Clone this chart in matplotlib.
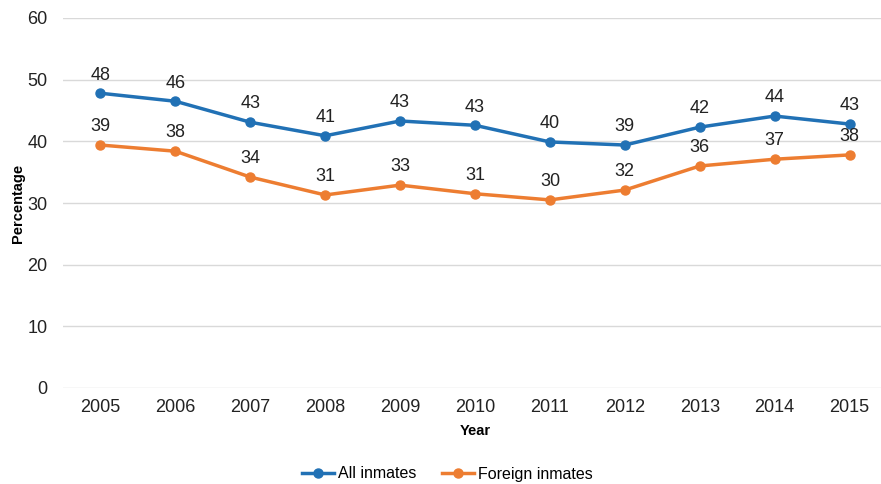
import numpy as np
import matplotlib.pyplot as plt

plt.rcParams['font.family'] = ['Liberation Sans', 'DejaVu Sans']

years = ['2005', '2006', '2007', '2008', '2009', '2010', '2011', '2012', '2013', '2014', '2015']
all_inmates = [47.8, 46.5, 43.1, 40.9, 43.3, 42.6, 39.9, 39.4, 42.3, 44.1, 42.8]
foreign_inmates = [39.4, 38.4, 34.2, 31.3, 32.9, 31.5, 30.5, 32.1, 36.0, 37.1, 37.8]
all_labels = [48, 46, 43, 41, 43, 43, 40, 39, 42, 44, 43]
foreign_labels = [39, 38, 34, 31, 33, 31, 30, 32, 36, 37, 38]

blue = '#2171B5'
orange = '#ED7D31'

fig = plt.figure(figsize=(8.81, 4.84), dpi=100)
ax = fig.add_axes([63/881, 1 - 388/484, 824/881, 370/484])

x = np.arange(len(years))
ax.plot(x, all_inmates, color=blue, lw=2.5, marker='o', ms=6.5, label='All inmates')
ax.plot(x, foreign_inmates, color=orange, lw=2.5, marker='o', ms=6.5, label='Foreign inmates')

for xi, v, lab in zip(x, all_inmates, all_labels):
    ax.annotate(str(lab), (xi, v), xytext=(0, 7), textcoords='offset points',
                ha='center', va='bottom', fontsize=13, color='#222222')
for xi, v, lab in zip(x, foreign_inmates, foreign_labels):
    ax.annotate(str(lab), (xi, v), xytext=(0, 7), textcoords='offset points',
                ha='center', va='bottom', fontsize=13, color='#222222')

ax.set_xlim(-0.5, 10.5)
ax.set_ylim(0, 60)
ax.set_yticks(range(0, 61, 10))
ax.set_xticks(x)
ax.set_xticklabels(years)
ax.tick_params(length=0, labelsize=13, colors='#222222')
ax.tick_params(axis='y', pad=11)
ax.tick_params(axis='x', pad=8)
ax.grid(axis='y', color='#D9D9D9', lw=1)
ax.set_axisbelow(True)
for s in ax.spines.values():
    s.set_visible(False)

ax.set_ylabel('Percentage', fontsize=10.5, fontweight='bold', labelpad=2)
ax.set_xlabel('Year', fontsize=10.5, fontweight='bold', labelpad=6)

fig.legend(loc='center', bbox_to_anchor=(447/881, 1 - 474/484), ncol=2, frameon=False,
           fontsize=11.5, handlelength=2.0, columnspacing=1.6, handletextpad=0.25)

fig.savefig('out.png', dpi=100)
